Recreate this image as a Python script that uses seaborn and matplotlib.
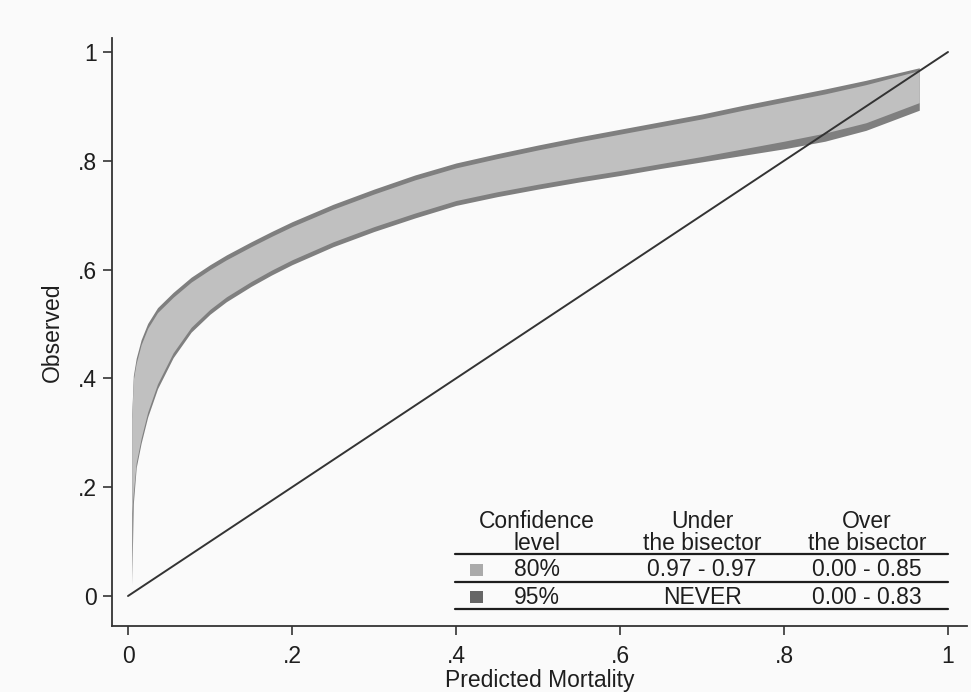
import matplotlib
matplotlib.use('Agg')
import matplotlib.pyplot as plt
import numpy as np
import pandas as pd
import seaborn as sns
from matplotlib.patches import Rectangle
from matplotlib.lines import Line2D

# predicted mortality grid and the four band edges
pred = [0.0045, 0.0065, 0.01, 0.016, 0.024, 0.036, 0.055, 0.077, 0.1, 0.12,
        0.15, 0.175, 0.2, 0.25, 0.3, 0.35, 0.4, 0.45, 0.5, 0.55,
        0.6, 0.65, 0.7, 0.75, 0.8, 0.85, 0.9, 0.965]
upper95 = [0.33, 0.405, 0.437, 0.471, 0.501, 0.530, 0.558, 0.586, 0.609, 0.627,
           0.651, 0.670, 0.688, 0.72, 0.748, 0.774, 0.796, 0.813, 0.829, 0.844,
           0.858, 0.872, 0.886, 0.902, 0.917, 0.932, 0.948, 0.971]
upper80 = [0.325, 0.398, 0.428, 0.462, 0.492, 0.521, 0.549, 0.577, 0.600, 0.618,
           0.642, 0.661, 0.679, 0.711, 0.739, 0.765, 0.787, 0.804, 0.820, 0.835,
           0.849, 0.863, 0.877, 0.893, 0.908, 0.923, 0.940, 0.966]
lower80 = [0.152, 0.19, 0.245, 0.29, 0.338, 0.39, 0.447, 0.494, 0.527, 0.550,
           0.578, 0.599, 0.618, 0.651, 0.679, 0.704, 0.727, 0.743, 0.757, 0.770,
           0.782, 0.795, 0.808, 0.822, 0.836, 0.851, 0.870, 0.907]
lower95 = [0.02, 0.17, 0.236, 0.281, 0.329, 0.381, 0.438, 0.485, 0.518, 0.541,
           0.569, 0.590, 0.609, 0.642, 0.670, 0.695, 0.718, 0.734, 0.748, 0.761,
           0.773, 0.786, 0.798, 0.810, 0.822, 0.836, 0.856, 0.893]

bisector_x = [0, 1]
bisector_y = [0, 1]

x_ticks = [0, 0.2, 0.4, 0.6, 0.8, 1]
x_tick_labels = ['0', '.2', '.4', '.6', '.8', '1']
y_ticks = [0, 0.2, 0.4, 0.6, 0.8, 1]
y_tick_labels = ['0', '.2', '.4', '.6', '.8', '1']

table_header = [('Confidence', 'level'), ('Under', 'the bisector'), ('Over', 'the bisector')]
table_levels = ['80%', '95%']
table_under = ['0.97 - 0.97', 'NEVER']
table_over = ['0.00 - 0.85', '0.00 - 0.83']

light = '#c0c0c0'
dark = '#7f7f7f'
bg = '#fafafa'
ink = '#1e1e1e'
fs = 16.5

sns.set_style('white')
plt.rcParams['font.family'] = ['Liberation Sans', 'DejaVu Sans']

W, H = 971, 692
fig = plt.figure(figsize=(W / 100, H / 100), dpi=100, facecolor=bg)
ax = fig.add_axes([112 / W, 1 - 626 / H, (967 - 112) / W, (626 - 38) / H])
ax.set_facecolor(bg)

ax.fill_between(pred, lower95, upper95, color=dark, linewidth=0)
ax.fill_between(pred, lower80, upper80, color=light, linewidth=0)

diag = pd.DataFrame({'x': bisector_x, 'y': bisector_y})
sns.lineplot(data=diag, x='x', y='y', ax=ax, color='#333333', linewidth=1.4)

ax.set_xlim(-16 / 820, 839 / 820)
ax.set_ylim(-30 / 544, 558 / 544)
ax.set_xticks(x_ticks)
ax.set_xticklabels(x_tick_labels)
ax.set_yticks(y_ticks)
ax.set_yticklabels(y_tick_labels)
ax.tick_params(axis='both', direction='out', length=6.5, width=1.2, color='#333333',
               labelsize=fs, labelcolor=ink, left=True, bottom=True)
ax.tick_params(axis='x', pad=7)
ax.tick_params(axis='y', pad=4.5)
ax.set_xlabel('Predicted Mortality', fontsize=fs, color=ink, labelpad=1)
ax.set_ylabel('Observed', fontsize=fs, color=ink, labelpad=10)
sns.despine(ax=ax)
for side in ['left', 'bottom']:
    ax.spines[side].set_color('#333333')
    ax.spines[side].set_linewidth(1.3)

# summary table in the lower right corner (pixel positions -> figure fractions)
def fx(px):
    return px / W

def fy(py):
    return 1 - py / H

col_x = [537, 702, 867]
for cx, (l1, l2) in zip(col_x, table_header):
    fig.text(fx(cx), fy(521), l1, ha='center', va='center', fontsize=fs, color=ink)
    fig.text(fx(cx), fy(544), l2, ha='center', va='center', fontsize=fs, color=ink)

row_y = [570, 597]
for i, ry in enumerate(row_y):
    fig.text(fx(537), fy(ry), table_levels[i], ha='center', va='center', fontsize=fs, color=ink)
    fig.text(fx(702), fy(ry), table_under[i], ha='center', va='center', fontsize=fs, color=ink)
    fig.text(fx(867), fy(ry), table_over[i], ha='center', va='center', fontsize=fs, color=ink)
    swatch = ['#aaaaaa', '#666666'][i]
    fig.patches.append(Rectangle((fx(470), fy(ry + 6)), 13 / W, 12 / H, transform=fig.transFigure,
                                 facecolor=swatch, edgecolor='none'))

for ly in [554, 582, 609]:
    fig.lines.append(Line2D([fx(455), fx(948)], [fy(ly), fy(ly)], transform=fig.transFigure,
                            color=ink, linewidth=1.6))

fig.savefig('out.png', dpi=100, facecolor=bg)
